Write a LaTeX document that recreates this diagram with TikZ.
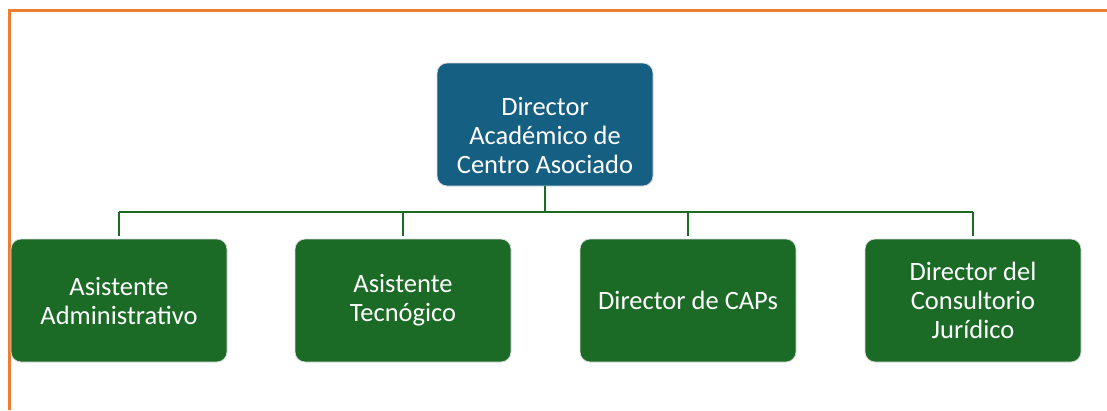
\documentclass[tikz,border=0pt]{standalone}
\usepackage{fontspec}
\setmainfont{Carlito}
\definecolor{topblue}{HTML}{156082}
\definecolor{boxgreen}{HTML}{1B6B27}
\definecolor{framecol}{HTML}{ED7D31}
\begin{document}
\begin{tikzpicture}[x=1pt,y=-1pt,
  orgbox/.style={rounded corners=10pt, draw=white!85!black, line width=0.8pt,
    minimum width=216pt, minimum height=123pt, text=white, align=center,
    font=\fontsize{26.5}{29}\selectfont, inner sep=0pt},
  boxtext/.style={text=white, align=center, font=\fontsize{26.5}{29}\selectfont, inner sep=0pt},
  link/.style={draw=boxgreen, line width=2.5pt}]
\useasboundingbox (0,0) rectangle (1107,410);
\draw[framecol, line width=3pt] (9,410) -- (9,10.5) -- (1107,10.5);
\node[orgbox, fill=topblue] (top) at (545,124.5) {};
\node[boxtext] (toptext) at (545,135) {Director\\Académico de\\Centro Asociado};
\node[orgbox, fill=boxgreen] (b1) at (119,300.5) {Asistente\\Administrativo};
\node[orgbox, fill=boxgreen] (b2) at (403,300.5) {Asistente\\Tecnógico};
\node[orgbox, fill=boxgreen] (b3) at (688,300.5) {Director de CAPs};
\node[orgbox, fill=boxgreen] (b4) at (973,300.5) {Director del\\Consultorio\\Jurídico};
\coordinate (bar) at (545,212);
\draw[link] (top.south) -- (bar);
\draw[link] (b1.north |- bar) -- (b4.north |- bar);
\foreach \b in {b1,b2,b3,b4}{
  \draw[link, shorten >=3pt] (\b.north |- bar) -- (\b.north);
}
\end{tikzpicture}
\end{document}
